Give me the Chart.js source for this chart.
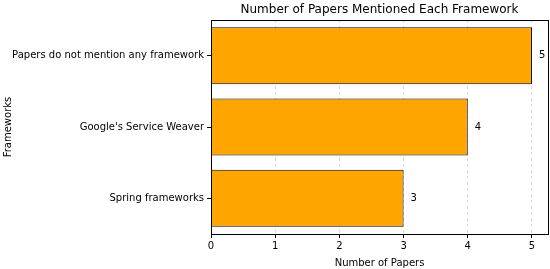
<!DOCTYPE html>
<html>
<head>
<meta charset="utf-8">
<script src="https://cdn.jsdelivr.net/npm/chart.js@4"></script>
<style>
  html, body { margin: 0; padding: 0; background: #fff; }
  #wrap { width: 550px; height: 269px; }
</style>
</head>
<body>
<div id="wrap"><canvas id="chart"></canvas></div>
<script>
const frameworks = ["Papers do not mention any framework", "Google's Service Weaver", "Spring frameworks"];
const paperCounts = [5, 4, 3];
const xTicks = [0, 1, 2, 3, 4, 5];
const chartTitle = "Number of Papers Mentioned Each Framework";

const font = "'DejaVu Sans', sans-serif";

// value labels, matplotlib-style frame and a title centred over the plot area
const extras = {
  id: "extras",
  afterDatasetsDraw(chart) {
    const ctx = chart.ctx;
    const meta = chart.getDatasetMeta(0);
    const a = chart.chartArea;
    ctx.save();
    ctx.fillStyle = "#000";
    ctx.font = "10px " + font;
    ctx.textBaseline = "middle";
    ctx.textAlign = "left";
    meta.data.forEach((bar, i) => {
      ctx.fillText(String(paperCounts[i]), bar.x + 7, bar.y);
    });
    ctx.strokeStyle = "#000";
    ctx.lineWidth = 1;
    ctx.strokeRect(Math.round(a.left) + 0.5, Math.round(a.top) + 0.5, Math.round(a.right - a.left), Math.round(a.bottom - a.top));
    ctx.font = "12px " + font;
    ctx.textAlign = "center";
    ctx.fillText(chartTitle, (a.left + a.right) / 2, 10);
    ctx.restore();
  }
};

new Chart(document.getElementById("chart"), {
  type: "bar",
  data: {
    labels: frameworks,
    datasets: [{
      data: paperCounts,
      backgroundColor: "#FFA500",
      borderColor: "#000",
      borderWidth: 1,
      categoryPercentage: 1.0,
      barPercentage: 0.8
    }]
  },
  options: {
    indexAxis: "y",
    responsive: true,
    maintainAspectRatio: false,
    animation: false,
    layout: { padding: { left: 0, right: 2, top: 20, bottom: 0 } },
    plugins: {
      legend: { display: false },
      tooltip: { enabled: false },
      title: { display: false }
    },
    scales: {
      x: {
        min: 0,
        max: 5.25,
        afterBuildTicks(scale) {
          scale.ticks = xTicks.map(v => ({ value: v }));
        },
        afterFit(scale) { scale.height = 35; },
        grid: {
          display: true,
          drawOnChartArea: true,
          color: "rgba(0,0,0,0.15)",
          tickColor: "#000",
          tickBorderDash: [],
          tickLength: 4
        },
        border: { display: true, color: "#000", dash: [3, 3] },
        ticks: { color: "#000", font: { family: font, size: 10 }, padding: 2 },
        title: {
          display: true,
          text: "Number of Papers",
          color: "#000",
          font: { family: font, size: 10 },
          padding: { top: 2, bottom: 0 }
        }
      },
      y: {
        afterFit(scale) { scale.width = 211; },
        grid: {
          offset: false,
          drawOnChartArea: false,
          tickColor: "#000",
          tickLength: 4
        },
        border: { display: true, color: "#000" },
        ticks: { color: "#000", font: { family: font, size: 10 }, padding: 3 },
        title: {
          display: true,
          text: "Frameworks",
          color: "#000",
          font: { family: font, size: 10 },
          padding: { top: 2, bottom: 0 }
        }
      }
    }
  },
  plugins: [extras]
});
</script>
</body>
</html>
